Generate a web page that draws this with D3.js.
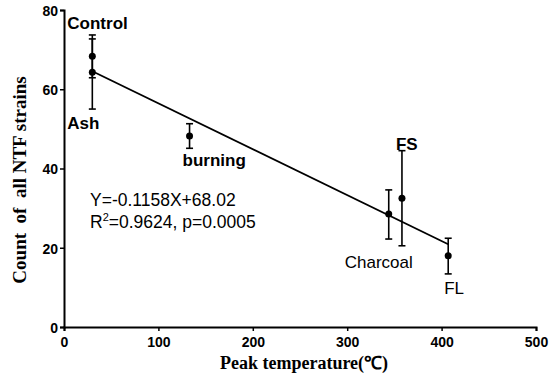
<!DOCTYPE html>
<html>
<head>
<meta charset="utf-8">
<script src="https://cdn.jsdelivr.net/npm/d3@7"></script>
<style>
  body { margin: 0; background: #fff; }
  .tick text { font-family: "Liberation Sans", Arial, sans-serif; font-weight: bold; font-size: 14px; }
</style>
</head>
<body>
<div id="chart"></div>
<script>
(function(){

    // data
    var groups = ["Control", "Ash", "burning", "Charcoal", "FS", "FL"];
    var temps  = [30, 30, 133, 344, 358, 407];
    var counts = [68.3, 64.3, 48.2, 28.5, 32.5, 18.0];
    var upper  = [73.7, 72.7, 51.3, 34.6, 44.5, 22.4];
    var lower  = [62.9, 55.0, 45.1, 22.2, 20.5, 13.4];
    var xTicks = [0, 100, 200, 300, 400, 500];
    var yTicks = [0, 20, 40, 60, 80];
    var slope = -0.1158, intercept = 68.02;

    var width = 550, height = 380;
    var margin = {top: 10, left: 64, right: 14, bottom: 53};
    var effWidth = width - margin.left - margin.right;
    var effHeight = height - margin.top - margin.bottom;

    var svg = d3.select("#chart").append("svg")
        .attr("width", width)
        .attr("height", height);

    var g = svg.append("g").attr("transform", "translate(" + margin.left + "," + margin.top + ")");

    var x = d3.scaleLinear().domain([0, 500]).range([0, effWidth]);
    var y = d3.scaleLinear().domain([0, 80]).range([effHeight, 0]);

    var xAxis = g.append("g")
        .attr("transform", "translate(0," + effHeight + ")")
        .call(d3.axisBottom(x).tickValues(xTicks).tickSize(4).tickPadding(6));
    var yAxis = g.append("g")
        .call(d3.axisLeft(y).tickValues(yTicks).tickSize(4).tickPadding(2));
    [xAxis, yAxis].forEach(function(a){
        a.select(".domain").attr("stroke-width", 2);
        a.selectAll(".tick line").attr("stroke-width", 1.5);
        a.selectAll(".tick text").attr("fill", "#000");
    });
    yAxis.selectAll(".tick text").attr("dy", "0.38em");

    var data = groups.map(function(name, i){
        return {name: name, t: temps[i], c: counts[i], hi: upper[i], lo: lower[i]};
    });

    // regression line
    var ext = d3.extent(temps);
    g.append("line")
        .attr("x1", x(ext[0])).attr("y1", y(slope * ext[0] + intercept))
        .attr("x2", x(ext[1])).attr("y2", y(slope * ext[1] + intercept))
        .attr("stroke", "#000").attr("stroke-width", 1.8);

    // error bars
    var eb = g.append("g").attr("stroke", "#000").attr("stroke-width", 1.6);
    data.forEach(function(d){
        eb.append("line").attr("x1", x(d.t)).attr("x2", x(d.t)).attr("y1", y(d.hi)).attr("y2", y(d.lo));
        [d.hi, d.lo].forEach(function(v){
            eb.append("line").attr("x1", x(d.t) - 3.5).attr("x2", x(d.t) + 3.5).attr("y1", y(v)).attr("y2", y(v));
        });
    });

    g.append("g").selectAll("circle")
        .data(data).enter().append("circle")
        .attr("cx", function(d){ return x(d.t); })
        .attr("cy", function(d){ return y(d.c); })
        .attr("r", 3.5)
        .attr("fill", "#000");

    // group labels, offsets from each point in pixels
    var labelStyle = {
        Control:  {dx: -25, dy: -27, bold: true},
        Ash:      {dx: -25, dy: 57,  bold: true},
        burning:  {dx: -7,  dy: 30,  bold: true},
        Charcoal: {dx: -44, dy: 54,  bold: false},
        FS:       {dx: -6,  dy: -48, bold: true},
        FL:       {dx: -4,  dy: 38,  bold: false}
    };
    g.append("g").selectAll("text")
        .data(data).enter().append("text")
        .attr("x", function(d){ return x(d.t) + labelStyle[d.name].dx; })
        .attr("y", function(d){ return y(d.c) + labelStyle[d.name].dy; })
        .attr("font-family", "'Liberation Sans', Arial, sans-serif")
        .attr("font-size", "17px")
        .attr("font-weight", function(d){ return labelStyle[d.name].bold ? "bold" : "normal"; })
        .text(function(d){ return d.name; });

    // equation
    var eq = svg.append("g")
        .attr("font-family", "'Liberation Sans', Arial, sans-serif")
        .attr("font-size", "17.5px");
    eq.append("text").attr("x", 90).attr("y", 206)
        .text("Y=" + slope + "X+" + intercept.toFixed(2));
    var r2 = eq.append("text").attr("x", 90).attr("y", 228);
    r2.append("tspan").text("R");
    r2.append("tspan").attr("dy", -7).attr("font-size", "11px").text("2");
    r2.append("tspan").attr("dy", 7).text("=0.9624, p=0.0005");

    // axis titles
    svg.append("text")
        .attr("x", margin.left + effWidth / 2 + 4).attr("y", 369)
        .attr("text-anchor", "middle")
        .attr("font-family", "'Liberation Serif', 'Times New Roman', serif")
        .attr("font-weight", "bold").attr("font-size", "18px")
        .text("Peak temperature(℃)");

    svg.append("text")
        .attr("transform", "translate(26,180) rotate(-90)")
        .attr("text-anchor", "middle")
        .style("white-space", "pre")
        .attr("font-family", "'Liberation Serif', 'Times New Roman', serif")
        .attr("font-weight", "bold").attr("font-size", "19px")
        .text("Count  of  all NTF strains");

})();
</script>
</body>
</html>
